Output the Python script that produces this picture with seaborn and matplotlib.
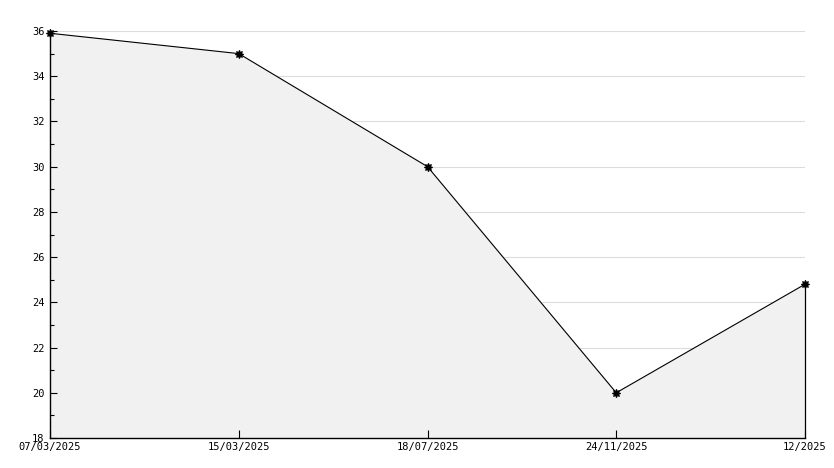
import pandas as pd
import matplotlib
matplotlib.use("Agg")
import matplotlib.pyplot as plt
import seaborn as sns

dates = ["07/03/2025", "15/03/2025", "18/07/2025", "24/11/2025", "12/2025"]
values = [35.9, 35.0, 30.0, 20.0, 24.8]
y_ticks = [18, 20, 22, 24, 26, 28, 30, 32, 34, 36]

df = pd.DataFrame({"pos": range(len(dates)), "date": dates, "value": values})

sns.set_style("white")
plt.rcParams["font.family"] = ["DejaVu Sans Mono", "DejaVu Sans"]

fig = plt.figure(figsize=(8.34, 4.68), dpi=100)
ax = fig.add_axes([50 / 834, 30 / 468, 755 / 834, 407 / 468])
ax.set_axisbelow(False)

for t in y_ticks[1:]:
    ax.axhline(t, color="#dcdcdc", linewidth=0.8, zorder=0)

ax.fill_between(df["pos"], df["value"], 18, color="#f1f1f1", zorder=1)
ax.plot([df["pos"].iloc[-1]] * 2, [18, df["value"].iloc[-1]], color="black",
        linewidth=0.9, zorder=2, clip_on=False)
sns.lineplot(data=df, x="pos", y="value", ax=ax, color="black", linewidth=0.8,
             marker=(8, 1, 0), markersize=6, markeredgecolor="black", zorder=3,
             clip_on=False)

ax.set_xlim(0, len(dates) - 1)
ax.set_ylim(18, 36)
ax.set_xticks(df["pos"])
ax.set_xticklabels(dates)
ax.set_yticks(y_ticks)
ax.set_yticks(range(19, 36, 2), minor=True)
ax.set_xlabel("")
ax.set_ylabel("")

for side in ["top", "right"]:
    ax.spines[side].set_visible(False)
for side in ["left", "bottom"]:
    ax.spines[side].set_color("black")
    ax.spines[side].set_linewidth(1.0)

ax.tick_params(axis="both", which="both", direction="in", colors="black", labelsize=7.5)
ax.tick_params(axis="y", which="major", length=5, width=0.8, pad=4, left=True)
ax.tick_params(axis="y", which="minor", length=3, width=0.8, left=True)
ax.tick_params(axis="x", which="major", length=6, width=0.8, pad=3, bottom=True)

fig.savefig("out.png", dpi=100)
